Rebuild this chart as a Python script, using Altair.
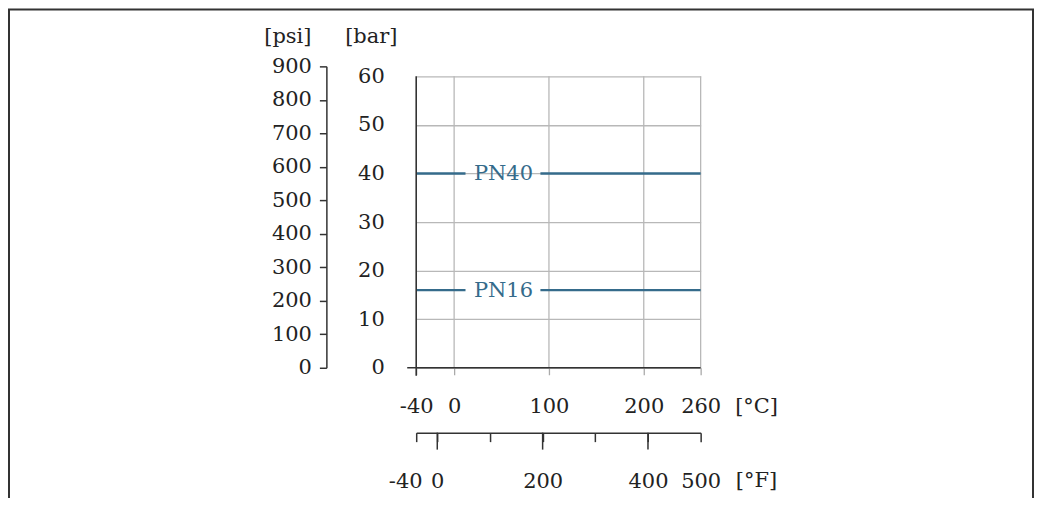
import altair as alt
import pandas as pd

# ---------------- data ----------------
PSI_PER_BAR = 14.5038

bar_ticks = [0, 10, 20, 30, 40, 50, 60]
psi_ticks = [0, 100, 200, 300, 400, 500, 600, 700, 800, 900]
c_ticks = [-40, 0, 100, 200, 260]
c_grid = [0, 100, 200, 260]
f_ticks = [-40, 0, 100, 200, 300, 400, 500]
f_labelled = [-40, 0, 200, 400, 500]
f_major = [0, 200, 400]

pn_names = ["PN40", "PN16"]
pn_bar = [40, 16]
t_min, t_max = -40, 260          # °C range of the pressure lines
gap_start, gap_end = 12, 91      # °C where the line breaks for its label
label_at = 52                    # °C centre of the PN label

# ---------------- styling ----------------
W, H = 285, 302
FONT = "DejaVu Serif"
FS = 21
TXT = "#222222"
DARK = "#333333"
GRID = "#b8b8b8"
BLUE = "#356b8b"

bar_max = psi_ticks[-1] / PSI_PER_BAR

c_scale = alt.Scale(domain=[t_min, t_max], nice=False, zero=False)
bar_scale = alt.Scale(domain=[0, bar_max], nice=False, zero=False)
psi_scale = alt.Scale(domain=[psi_ticks[0], psi_ticks[-1]], nice=False, zero=False)
f_scale = alt.Scale(domain=[f_ticks[0], f_ticks[-1]], nice=False, zero=False)

c_axis = alt.Axis(orient="bottom", values=c_ticks, tickSize=7, tickColor="#aaaaaa",
                  tickWidth=1.3, domain=False, grid=False, labelPadding=32,
                  labelBaseline="middle", labelFlush=False, labelOverlap=False,
                  labelExpr="'' + datum.value", title=None)
bar_axis = alt.Axis(orient="left", values=bar_ticks, ticks=False, domain=False, grid=True,
                    gridColor=GRID, gridWidth=1.3, labelPadding=32, labelOverlap=False,
                    labelFlush=False, title=None)
psi_axis = alt.Axis(orient="left", offset=90, values=psi_ticks, tickSize=7, tickColor=DARK,
                    tickWidth=1.5, domain=True, domainColor=DARK, domainWidth=1.5, grid=False,
                    labelPadding=8, labelOverlap=False, labelFlush=False, title=None)
lab_list = ",".join(str(v) for v in f_labelled)
f_axis = alt.Axis(orient="bottom", offset=65, values=f_ticks, tickSize=9, tickColor=DARK,
                  tickWidth=1.5, domain=True, domainColor=DARK, domainWidth=1.5, grid=False,
                  labelExpr=f"indexof([{lab_list}], datum.value) >= 0 ? '' + datum.value : ''",
                  labelOffset=alt.expr(f"datum.value == {f_ticks[0]} ? -11 : 0"),
                  labelPadding=40, labelBaseline="middle", labelFlush=False,
                  labelOverlap=False, title=None)

one = alt.Data(values=[{"k": 0}])

# invisible carriers for the °C and bar axes
cx_df = pd.DataFrame({"c": c_ticks})
c_carrier = alt.Chart(cx_df).mark_point(opacity=0).encode(
    x=alt.X("c:Q", scale=c_scale, axis=c_axis),
    y=alt.value(0),
)
by_df = pd.DataFrame({"bar": bar_ticks})
bar_carrier = alt.Chart(by_df).mark_point(opacity=0).encode(
    y=alt.Y("bar:Q", scale=bar_scale, axis=bar_axis),
    x=alt.value(0),
)

# vertical grid lines (stop at 60 bar)
grid_df = pd.DataFrame({"c": c_grid})
vgrid = alt.Chart(grid_df).mark_rule(color=GRID, strokeWidth=1.3).encode(
    x=alt.X("c:Q", scale=c_scale, axis=c_axis),
    y=alt.YDatum(bar_ticks[0], scale=bar_scale, axis=bar_axis),
    y2=alt.Y2Datum(bar_ticks[-1]),
)

left_frame = alt.Chart(one).mark_rule(color=DARK, strokeWidth=1.6).encode(
    x=alt.XDatum(t_min, scale=c_scale, axis=c_axis),
    y=alt.YDatum(bar_ticks[-1], scale=bar_scale, axis=bar_axis),
    y2=alt.value(H + 8),
)
bottom_frame = alt.Chart(one).mark_rule(color=DARK, strokeWidth=1.6, xOffset=-9).encode(
    y=alt.YDatum(bar_ticks[0], scale=bar_scale, axis=bar_axis),
    x=alt.XDatum(t_min, scale=c_scale, axis=c_axis),
    x2=alt.X2Datum(t_max),
)

seg_rows = []
for n, b in zip(pn_names, pn_bar):
    seg_rows.append({"name": n, "bar": b, "t0": t_min, "t1": gap_start})
    seg_rows.append({"name": n, "bar": b, "t0": gap_end, "t1": t_max})
seg_df = pd.DataFrame(seg_rows)
pn_lines = alt.Chart(seg_df).mark_rule(color=BLUE, strokeWidth=2.3).encode(
    x=alt.X("t0:Q", scale=c_scale, axis=c_axis),
    x2="t1:Q",
    y=alt.Y("bar:Q", scale=bar_scale, axis=bar_axis),
)

lab_df = pd.DataFrame({"name": pn_names, "bar": pn_bar, "t": [label_at] * len(pn_names)})
pn_labels = alt.Chart(lab_df).mark_text(color=BLUE, font=FONT, fontSize=FS,
                                        baseline="middle", align="center", dy=1).encode(
    x=alt.X("t:Q", scale=c_scale, axis=c_axis),
    y=alt.Y("bar:Q", scale=bar_scale, axis=bar_axis),
    text="name:N",
)

def unit(txt, x, y, align):
    return alt.Chart(one).mark_text(font=FONT, fontSize=FS, color=TXT, align=align,
                                    baseline="middle").encode(
        x=alt.value(x), y=alt.value(y), text=alt.value(txt))

border = alt.Chart(one).mark_rect(fill=None, stroke=DARK, strokeWidth=2).encode(
    x=alt.value(-408), x2=alt.value(618), y=alt.value(-57), y2=alt.value(700))

main = alt.layer(
    c_carrier, bar_carrier, vgrid, pn_lines, pn_labels, left_frame, bottom_frame,
    unit("[psi]", -105, -29, "right"),
    unit("[bar]", -45, -29, "center"),
    unit("[°C]", 341, 341, "center"),
    unit("[°F]", 341, 415, "center"),
    border,
)

f_df = pd.DataFrame({"f": f_major})
f_layer = alt.Chart(f_df).mark_rule(color=DARK, strokeWidth=1.5).encode(
    x=alt.X("f:Q", scale=f_scale, axis=f_axis),
    y=alt.value(H + 65),
    y2=alt.value(H + 82),
)

psi_df = pd.DataFrame({"psi": psi_ticks})
psi_layer = alt.Chart(psi_df).mark_point(opacity=0).encode(
    y=alt.Y("psi:Q", scale=psi_scale, axis=psi_axis),
    x=alt.value(0),
)

chart = alt.layer(main, f_layer, psi_layer).resolve_scale(
    x="independent", y="independent"
).properties(
    width=W, height=H,
    autosize=alt.AutoSizeParams(type="none"),
    padding={"left": 409, "top": 58, "right": 334, "bottom": 130},
).configure_view(stroke=None).configure_axis(
    labelFont=FONT, labelFontSize=FS, labelColor=TXT,
)

chart.save("out.html", embed_options={"renderer": "svg", "actions": False})
